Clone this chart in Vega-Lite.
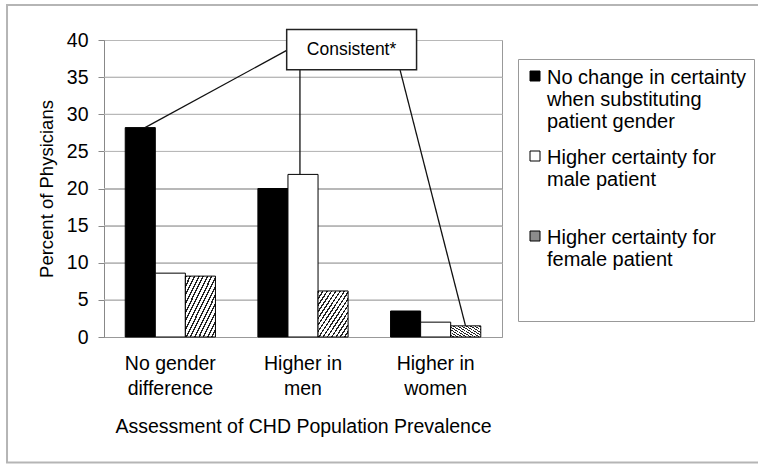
{
  "$schema": "https://vega.github.io/schema/vega-lite/v6.json",
  "width": 398,
  "height": 297,
  "autosize": {"type": "none"},
  "padding": {"left": 104, "top": 40, "right": 256, "bottom": 127},
  "background": "white",
  "config": {
    "font": "Liberation Sans",
    "view": {"stroke": "#999", "strokeWidth": 1},
    "axis": {"labelColor": "#000", "titleColor": "#000", "titleFontWeight": "normal"}
  },
  "datasets": {
    "gridlines": [
      {"x": 0, "x2": 3, "y": 5}, {"x": 0, "x2": 3, "y": 10}, {"x": 0, "x2": 3, "y": 15}, {"x": 0, "x2": 3, "y": 20},
      {"x": 0, "x2": 3, "y": 25}, {"x": 0, "x2": 3, "y": 30}, {"x": 0, "x2": 3, "y": 35}
    ],
    "bars": [
      {"cat": "No gender|difference", "series": "No change in certainty|when substituting|patient gender", "y": 28.2},
      {"cat": "No gender|difference", "series": "Higher certainty for|male patient|", "y": 8.6},
      {"cat": "No gender|difference", "series": "Higher certainty for|female patient||", "y": 8.2},
      {"cat": "Higher in|men", "series": "No change in certainty|when substituting|patient gender", "y": 20.0},
      {"cat": "Higher in|men", "series": "Higher certainty for|male patient|", "y": 21.9},
      {"cat": "Higher in|men", "series": "Higher certainty for|female patient||", "y": 6.2},
      {"cat": "Higher in|women", "series": "No change in certainty|when substituting|patient gender", "y": 3.5},
      {"cat": "Higher in|women", "series": "Higher certainty for|male patient|", "y": 2.0},
      {"cat": "Higher in|women", "series": "Higher certainty for|female patient||", "y": 1.5}
    ],
    "lines": [
      {"x": 0.309, "y": 28.2, "x2": 1.377, "y2": 38.6},
      {"x": 1.477, "y": 21.9, "x2": 1.477, "y2": 36.0},
      {"x": 2.725, "y": 1.5, "x2": 2.231, "y2": 36.0}
    ],
    "box": [
      {"x": 1.377, "x2": 2.356, "y": 36.0, "y2": 41.4}
    ],
    "label": [
      {"x": 1.866, "y": 38.7, "label": "Consistent*"}
    ],
    "frame": [
      {"x": -0.731, "x2": 5, "y": -16.9, "y2": 44.7}
    ]
  },
  "encoding": {
    "y": {
      "field": "y", "type": "quantitative",
      "scale": {"domain": [0, 40], "nice": false},
      "axis": {
        "title": "Percent of Physicians",
        "tickCount": 8,
        "labelOverlap": false,
        "labelFontSize": 19.5,
        "labelPadding": 10,
        "tickSize": 6,
        "tickColor": "#888",
        "domainColor": "#888",
        "grid": true,
        "gridColor": "#b8b8b8",
        "gridWidth": 1,
        "titleFontSize": 18.5,
        "titlePadding": 10
      }
    }
  },
  "layer": [
    {
      "data": {"name": "frame"},
      "mark": {"type": "rect", "fill": null, "stroke": "#b5b5b5", "strokeWidth": 2, "clip": false},
      "encoding": {
        "x": {"field": "x", "type": "quantitative", "scale": {"domain": [0, 3], "nice": false, "zero": false}, "axis": null},
        "x2": {"field": "x2"},
        "y2": {"field": "y2"}
      }
    },
    {
      "data": {"name": "gridlines"},
      "mark": {"type": "rule", "color": "#b8b8b8", "strokeWidth": 1},
      "encoding": {
        "x": {"field": "x", "type": "quantitative", "scale": {"domain": [0, 3], "nice": false, "zero": false}, "axis": null},
        "x2": {"field": "x2"}
      }
    },
    {
      "data": {"name": "bars"},
      "mark": {"type": "bar", "stroke": "#000", "strokeWidth": 1},
      "encoding": {
        "x": {
          "field": "cat", "type": "nominal", "sort": null,
          "scale": {"paddingInner": 0.32, "paddingOuter": 0.16},
          "axis": {
            "title": "Assessment of CHD Population Prevalence",
            "labelExpr": "split(datum.label, '|')",
            "labelAngle": 0,
            "labelFontSize": 19.5,
            "labelLineHeight": 25,
            "labelPadding": 17,
            "ticks": false,
            "tickSize": 0,
            "domainColor": "#999",
            "titleFontSize": 19.5,
            "titlePadding": 20
          }
        },
        "xOffset": {"field": "series", "type": "nominal", "sort": null, "scale": {"paddingInner": 0, "paddingOuter": 0}},
        "fill": {
          "condition": {
            "test": "indexof(datum.series, 'female') >= 0",
            "value": {"gradient": "linear", "x1": 0, "y1": 0, "x2": 1, "y2": 1, "stops": [
                {"offset": 0, "color": "#222"}, {"offset": 0.025, "color": "#222"}, {"offset": 0.025, "color": "#fff"}, {"offset": 0.0714, "color": "#fff"},
                {"offset": 0.0714, "color": "#222"}, {"offset": 0.0964, "color": "#222"}, {"offset": 0.0964, "color": "#fff"}, {"offset": 0.1429, "color": "#fff"},
                {"offset": 0.1429, "color": "#222"}, {"offset": 0.1679, "color": "#222"}, {"offset": 0.1679, "color": "#fff"}, {"offset": 0.2143, "color": "#fff"},
                {"offset": 0.2143, "color": "#222"}, {"offset": 0.2393, "color": "#222"}, {"offset": 0.2393, "color": "#fff"}, {"offset": 0.2857, "color": "#fff"},
                {"offset": 0.2857, "color": "#222"}, {"offset": 0.3107, "color": "#222"}, {"offset": 0.3107, "color": "#fff"}, {"offset": 0.3571, "color": "#fff"},
                {"offset": 0.3571, "color": "#222"}, {"offset": 0.3821, "color": "#222"}, {"offset": 0.3821, "color": "#fff"}, {"offset": 0.4286, "color": "#fff"},
                {"offset": 0.4286, "color": "#222"}, {"offset": 0.4536, "color": "#222"}, {"offset": 0.4536, "color": "#fff"}, {"offset": 0.5, "color": "#fff"},
                {"offset": 0.5, "color": "#222"}, {"offset": 0.525, "color": "#222"}, {"offset": 0.525, "color": "#fff"}, {"offset": 0.5714, "color": "#fff"},
                {"offset": 0.5714, "color": "#222"}, {"offset": 0.5964, "color": "#222"}, {"offset": 0.5964, "color": "#fff"}, {"offset": 0.6429, "color": "#fff"},
                {"offset": 0.6429, "color": "#222"}, {"offset": 0.6679, "color": "#222"}, {"offset": 0.6679, "color": "#fff"}, {"offset": 0.7143, "color": "#fff"},
                {"offset": 0.7143, "color": "#222"}, {"offset": 0.7393, "color": "#222"}, {"offset": 0.7393, "color": "#fff"}, {"offset": 0.7857, "color": "#fff"},
                {"offset": 0.7857, "color": "#222"}, {"offset": 0.8107, "color": "#222"}, {"offset": 0.8107, "color": "#fff"}, {"offset": 0.8571, "color": "#fff"},
                {"offset": 0.8571, "color": "#222"}, {"offset": 0.8821, "color": "#222"}, {"offset": 0.8821, "color": "#fff"}, {"offset": 0.9286, "color": "#fff"},
                {"offset": 0.9286, "color": "#222"}, {"offset": 0.9536, "color": "#222"}, {"offset": 0.9536, "color": "#fff"}, {"offset": 1, "color": "#fff"}
            ]}
          },
          "field": "series", "type": "nominal", "sort": null,
          "scale": {
            "domain": ["No change in certainty|when substituting|patient gender", "Higher certainty for|male patient|", "Higher certainty for|female patient||"],
            "range": ["#000000", "#ffffff", "#8c8c8c"]
          },
          "legend": {
            "title": null,
            "orient": "none",
            "legendX": 414,
            "legendY": 19,
            "strokeColor": "#999",
            "padding": 7,
            "labelExpr": "split(datum.label, '|')",
            "labelFontSize": 20,
            "labelLineHeight": 24,
            "labelLimit": 400,
            "labelColor": "#000",
            "labelBaseline": "alphabetic",
            "labelOffset": 2,
            "symbolType": "square",
            "symbolSize": 100,
            "symbolStrokeColor": "#000",
            "symbolStrokeWidth": 1,
            "symbolOpacity": 1,
            "rowPadding": 14,
            "encode": {
              "labels": {"update": {"dy": {"value": 8}}},
              "symbols": {"update": {
                "stroke": {"value": "#000000"},
                "strokeWidth": {"value": 1},
                "fill": [
                {"test": "indexof(datum.value, 'female') >= 0", "value": {"gradient": "linear", "x1": 0, "y1": 0, "x2": 1, "y2": 1, "stops": [
                  {"offset": 0, "color": "#fff"}, {"offset": 0.14, "color": "#fff"}, {"offset": 0.14, "color": "#222"}, {"offset": 0.24, "color": "#222"},
                  {"offset": 0.24, "color": "#fff"}, {"offset": 0.38, "color": "#fff"}, {"offset": 0.38, "color": "#222"}, {"offset": 0.48, "color": "#222"},
                  {"offset": 0.48, "color": "#fff"}, {"offset": 0.62, "color": "#fff"}, {"offset": 0.62, "color": "#222"}, {"offset": 0.72, "color": "#222"},
                  {"offset": 0.72, "color": "#fff"}, {"offset": 0.86, "color": "#fff"}, {"offset": 0.86, "color": "#222"}, {"offset": 0.96, "color": "#222"},
                  {"offset": 0.96, "color": "#fff"}, {"offset": 1, "color": "#fff"}
                ]}},
                {"test": "indexof(datum.value, 'male') >= 0", "value": "#ffffff"},
                {"value": "#000000"}
              ]}}
            }
          }
        }
      }
    },
    {
      "data": {"name": "lines"},
      "mark": {"type": "rule", "color": "#111", "strokeWidth": 1.3, "clip": false},
      "encoding": {
        "x": {"field": "x", "type": "quantitative", "scale": {"domain": [0, 3], "nice": false, "zero": false}, "axis": null},
        "x2": {"field": "x2"},
        "y2": {"field": "y2"}
      }
    },
    {
      "data": {"name": "box"},
      "mark": {"type": "rect", "fill": "#fff", "stroke": "#222", "strokeWidth": 1.5, "clip": false},
      "encoding": {
        "x": {"field": "x", "type": "quantitative", "scale": {"domain": [0, 3], "nice": false, "zero": false}, "axis": null},
        "x2": {"field": "x2"},
        "y2": {"field": "y2"}
      }
    },
    {
      "data": {"name": "label"},
      "mark": {"type": "text", "fontSize": 17.5, "color": "#000", "align": "center", "baseline": "middle", "clip": false},
      "encoding": {
        "x": {"field": "x", "type": "quantitative", "scale": {"domain": [0, 3], "nice": false, "zero": false}, "axis": null},
        "text": {"field": "label"}
      }
    }
  ],
  "resolve": {"scale": {"x": "independent"}}
}
